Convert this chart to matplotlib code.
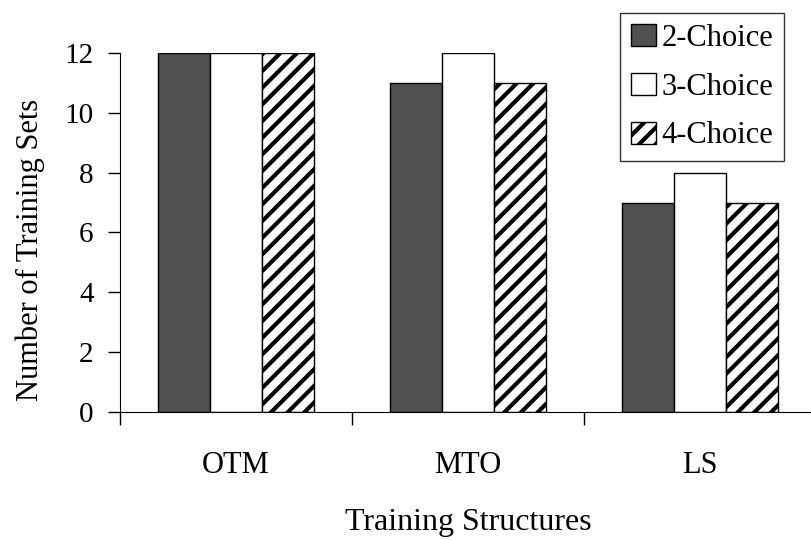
import numpy as np
import matplotlib.pyplot as plt
from matplotlib.ticker import FixedLocator

structures = ["OTM", "MTO", "LS"]
series = ["2-Choice", "3-Choice", "4-Choice"]
two_choice = [12, 11, 7]
three_choice = [12, 12, 8]
four_choice = [12, 11, 7]

plt.rcParams['font.family'] = ['Liberation Serif', 'DejaVu Serif']
plt.rcParams['hatch.linewidth'] = 3.0

fig = plt.figure(figsize=(8.11, 5.4), dpi=100)
ax = fig.add_axes([0.148, 0.237, 0.852, 0.665])

x = np.arange(len(structures))
w = 0.224
ax.bar(x - w, two_choice, w, color='#505050', edgecolor='black', lw=1, label=series[0])
ax.bar(x, three_choice, w, color='white', edgecolor='black', lw=1, label=series[1])
ax.bar(x + w, four_choice, w, color='white', edgecolor='black', lw=1, hatch='//', label=series[2])

ax.set_xlim(-0.5, 2.48)
ax.set_ylim(0, 12)
ax.set_yticks(range(0, 13, 2))
ax.set_xticks(x)
ax.set_xticklabels(structures)
ax.xaxis.set_minor_locator(FixedLocator([-0.5, 0.5, 1.5]))
ax.tick_params(axis='x', which='major', length=0, pad=28, labelsize=22)
ax.tick_params(axis='x', which='minor', length=9, direction='out', width=1)
ax.tick_params(axis='y', length=9, direction='out', width=1, labelsize=21, pad=10)
for s in ['top', 'right']:
    ax.spines[s].set_visible(False)

ax.set_ylabel("Number of Training Sets", fontsize=22)
ax.yaxis.set_label_coords(-0.109, 0.451)
fig.text(0.577, 0.018, "Training Structures", fontsize=23, ha='center', va='baseline')

leg = ax.legend(loc='upper right', bbox_to_anchor=(0.967, 0.976), bbox_transform=fig.transFigure,
                fontsize=22, frameon=True, fancybox=False, edgecolor='black',
                handlelength=0.82, handleheight=0.75, handletextpad=0.2,
                labelspacing=0.65, borderpad=0.35, borderaxespad=0)
leg.get_frame().set_linewidth(1)

fig.savefig("out.png", dpi=100)
